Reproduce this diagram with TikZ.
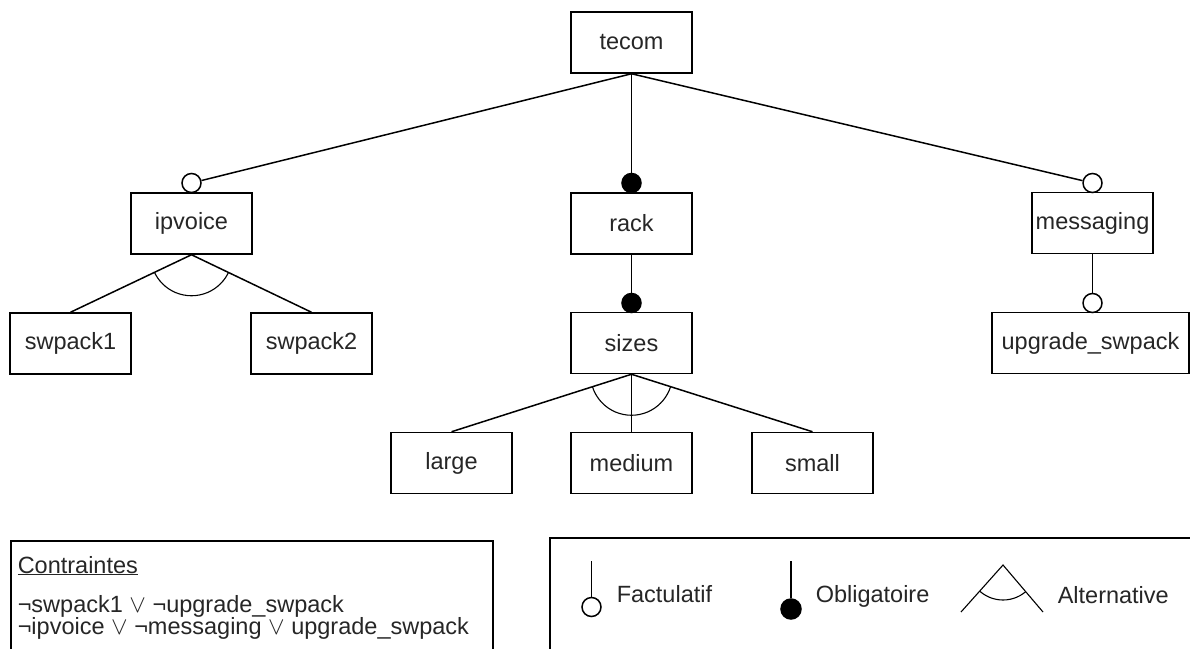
\documentclass[tikz,border=0pt]{standalone}
\usepackage{fontspec}
\setmainfont{Liberation Sans}
\begin{document}
\begin{tikzpicture}[x=1pt,y=-1pt,line width=1.5pt,
  feat/.style={draw, rectangle, minimum width=121pt, minimum height=61pt, inner sep=0pt, font=\fontsize{23.5}{26}\selectfont, text=black!85},
  opt/.style={draw, circle, fill=white, minimum size=19pt, inner sep=0pt},
  mand/.style={draw, circle, fill=black, minimum size=19pt, inner sep=0pt},
  lbl/.style={inner sep=0pt, anchor=base west, font=\fontsize{23.5}{26}\selectfont, text=black!85}]
\clip (0,0) rectangle (1190,648);
% feature boxes
\node[feat] (tecom) at (631.5,42.5) {tecom};
\node[feat] (ipvoice) at (191.5,223.5) {ipvoice};
\node[feat] (rack) at (631.5,223.5) {rack};
\node[feat] (messaging) at (1092.5,223) {messaging};
\node[feat] (swpack1) at (70.5,343.5) {swpack1};
\node[feat] (swpack2) at (311.5,343.5) {swpack2};
\node[feat] (sizes) at (631.5,343) {sizes};
\node[feat, minimum width=197pt] (upgrade) at (1090.5,343) {upgrade\_swpack};
\node[feat] (large) at (451.5,463) {large};
\node[feat] (medium) at (631.5,463) {medium};
\node[feat] (small) at (812.5,463) {small};
% decorations
\node[opt] (cip) at (191.5,183) {};
\node[mand] (crack) at (631.5,183) {};
\node[opt] (cmsg) at (1092.5,183) {};
\node[mand] (csizes) at (631.5,303) {};
\node[opt] (cup) at (1092.5,303) {};
% connectors
\draw (tecom.south) -- (cip);
\draw (tecom.south) -- (crack);
\draw (tecom.south) -- (cmsg);
\draw (rack.south) -- (csizes);
\draw (messaging.south) -- (cup);
\draw (ipvoice.south) -- (swpack1.north);
\draw (ipvoice.south) -- (swpack2.north);
\draw (sizes.south) -- (large.north);
\draw (sizes.south) -- (medium.north);
\draw (sizes.south) -- (small.north);
\begin{scope}
  \clip (ipvoice.south) -- (swpack1.north) -- (swpack2.north) -- cycle;
  \draw[line width=1.1pt] (ipvoice.south) circle[radius=41pt];
\end{scope}
\begin{scope}
  \clip (sizes.south) -- (large.north) -- (small.north) -- cycle;
  \draw[line width=1.1pt] (sizes.south) circle[radius=41pt];
\end{scope}
% constraints box
\node[draw, rectangle, minimum width=482pt, minimum height=130pt, anchor=north west, inner sep=0pt] (cbox) at (10,540) {};
\node[lbl] (ctitle) at (17,573) {\underline{Contraintes}};
\node[lbl] (c1) at (17,612) {¬swpack1 $\vee$ ¬upgrade\_swpack};
\node[lbl] (c2) at (17,634) {¬ipvoice $\vee$ ¬messaging $\vee$ upgrade\_swpack};
% legend box
\node[draw, rectangle, minimum width=660pt, minimum height=130pt, anchor=north west, inner sep=0pt] (lbox) at (549,537) {};
\coordinate (ftop) at (591.5,561);
\node[opt] (fcirc) at (591.5,607) {};
\draw (ftop) -- (fcirc);
\node[lbl] (ftext) at (616,602) {Factulatif};
\coordinate (otop) at (791,561);
\node[mand, minimum size=20pt] (ocirc) at (791,609) {};
\draw (otop) -- (ocirc);
\node[lbl] (otext) at (815,602) {Obligatoire};
\coordinate (aapex) at (1003,565);
\coordinate (aleft) at (961,612);
\coordinate (aright) at (1043,612);
\draw[line width=1.1pt] (aleft) -- (aapex) -- (aright);
\begin{scope}
  \clip (aapex) -- (aleft) -- (aright) -- cycle;
  \draw[line width=1.1pt] (aapex) circle[radius=35pt];
\end{scope}
\node[lbl] (atext) at (1057,603) {Alternative};
\end{tikzpicture}
\end{document}
